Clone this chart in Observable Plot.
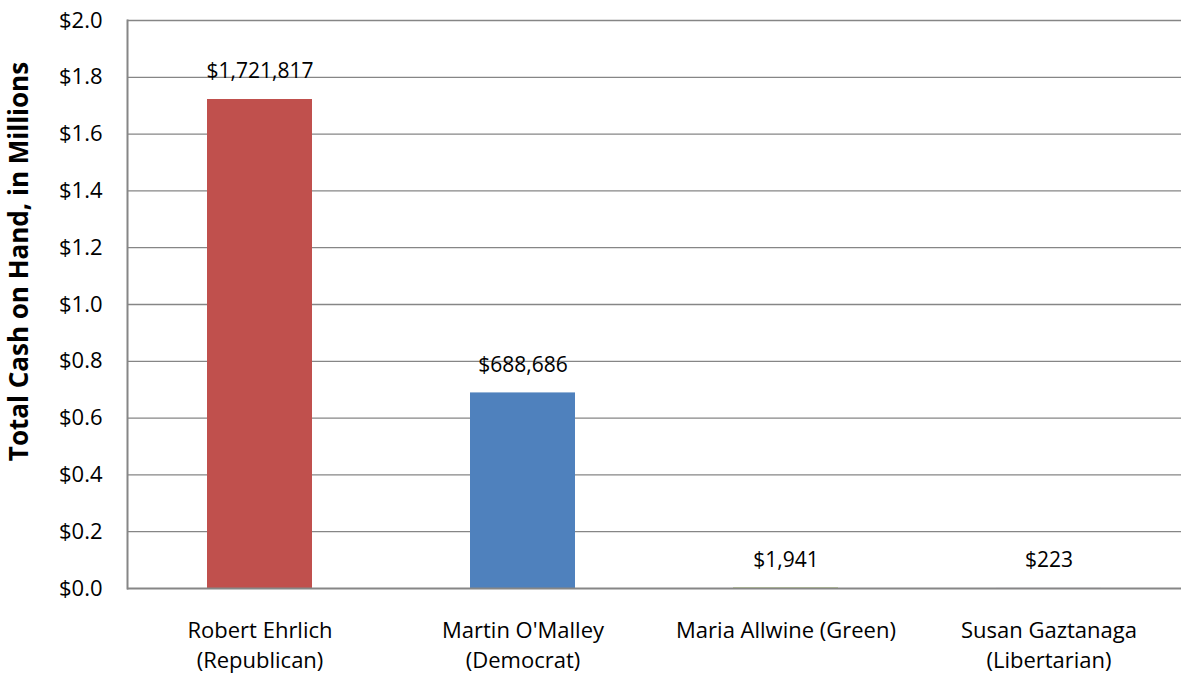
<!DOCTYPE html>
<html>
<head>
<meta charset="utf-8">
<script src="https://cdn.jsdelivr.net/npm/d3@7"></script>
<script src="https://cdn.jsdelivr.net/npm/@observablehq/plot@0.6"></script>
<style>
  html, body { margin: 0; padding: 0; background: #fff; }
  #chart svg { display: block; }
</style>
</head>
<body>
<div id="chart"></div>
<script>
// Candidates and their total cash on hand (dollars)
const candidates = [
  "Robert Ehrlich\n(Republican)",
  "Martin O'Malley\n(Democrat)",
  "Maria Allwine (Green)",
  "Susan Gaztanaga\n(Libertarian)"
];
const cashOnHand = [1721817, 688686, 1941, 223];
const barColors = ["#C0504D", "#4F81BD", "#9BBB59", "#8064A2"];
const yTicks = [0, 200000, 400000, 600000, 800000, 1000000, 1200000, 1400000, 1600000, 1800000, 2000000];

const rows = candidates.map((name, i) => ({name, cash: cashOnHand[i], color: barColors[i]}));
const money = d3.format(",");
const font = "'Open Sans', Lato, sans-serif";

const chart = Plot.plot({
  width: 1181,
  height: 679,
  marginLeft: 127,
  marginRight: 0,
  marginTop: 20,
  marginBottom: 91,
  style: {fontSize: "22px", fontFamily: font, color: "#000"},
  x: {domain: candidates, paddingInner: 0.6, paddingOuter: 0.3, label: null},
  y: {domain: [0, 2000000], label: null},
  marks: [
    Plot.ruleY(yTicks.slice(1), {stroke: "#868686", strokeWidth: 1.3}),
    Plot.barY(rows, {x: "name", y: "cash", fill: "color"}),
    Plot.ruleY([0], {stroke: "#868686", strokeWidth: 2}),
    Plot.frame({anchor: "left", stroke: "#868686", strokeWidth: 2}),
    Plot.text(rows, {x: "name", y: "cash", text: d => "$" + money(d.cash), dy: -28, fontSize: 21, fill: "#000"}),
    Plot.axisY({ticks: yTicks, tickSize: 0, tickPadding: 25, tickFormat: d => "$" + (d / 1e6).toFixed(1), label: null, fontSize: 22}),
    Plot.axisX({tickSize: 0, tickPadding: 28, label: null, fontSize: 22, lineHeight: 1.36}),
    Plot.text(["Total Cash on Hand, in Millions"], {
      frameAnchor: "top-left", dx: -118, dy: 241, rotate: -90, textAnchor: "middle",
      fontWeight: "bold", fontSize: 26, fill: "#000"
    })
  ]
});
document.getElementById("chart").appendChild(chart);
</script>
</body>
</html>
